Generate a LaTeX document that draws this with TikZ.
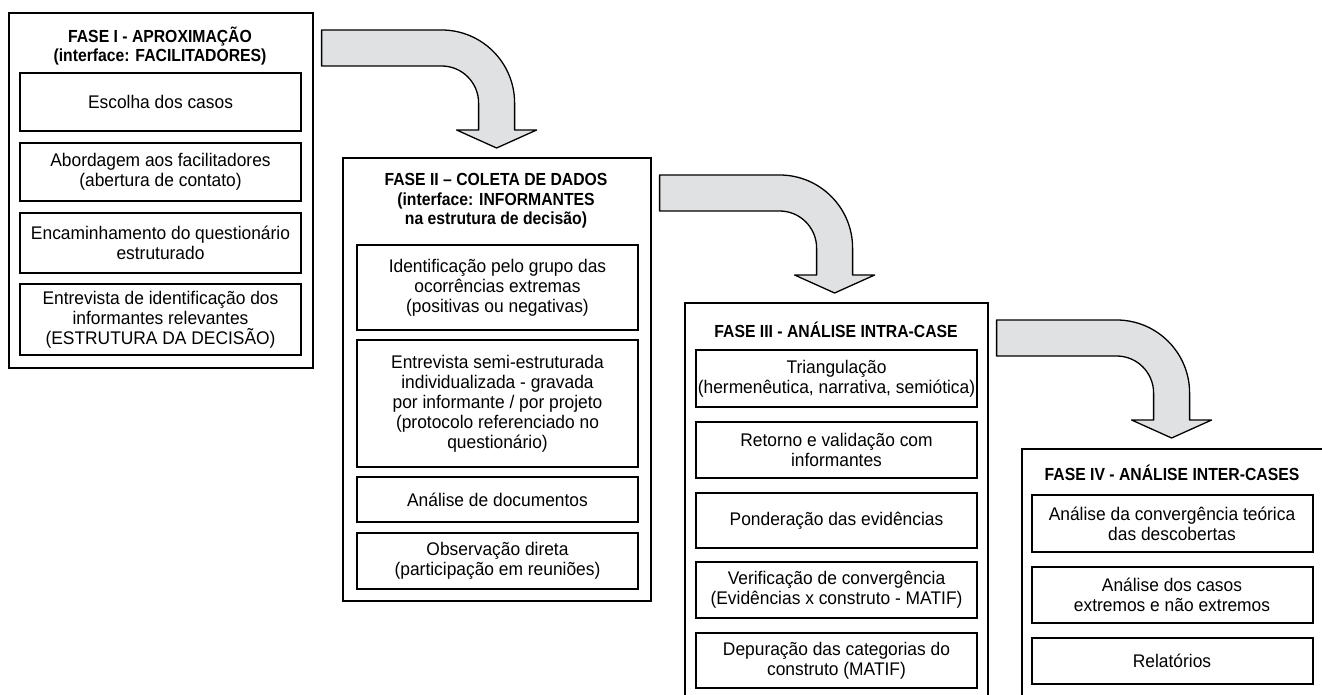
\documentclass[tikz,border=0pt]{standalone}
\usepackage{fontspec}
\setmainfont{Liberation Sans}[UprightFeatures={FakeStretch=0.95},BoldFeatures={FakeStretch=0.9}]
\usepackage{tikz}
\usetikzlibrary{calc}
\definecolor{cinza}{RGB}{224,225,227}

\tikzset{
  fase/.style={draw, line width=1.6pt, anchor=north west, inner sep=0pt},
  etapa/.style={draw, line width=2pt, minimum width=281pt, align=center, inner sep=0pt,
    font=\fontsize{18.3}{20}\selectfont},
  titulo/.style={align=center, inner sep=0pt, font=\fontsize{17.5}{19.5}\selectfont\bfseries},
  seta/.style={draw=black, fill=cinza, line width=1.3pt, line join=round},
  % seta curva (y para baixo)
  curva/.pic={
    \draw[seta] (0,0) -- (120,0) .. controls (160.3,0) and (193,-32.7) .. (193,-73) -- (193,-100)
      -- (215,-100) -- (175,-118) -- (135,-100) -- (157,-100) -- (157,-73)
      .. controls (157,-52.6) and (140.4,-36) .. (120,-36) -- (0,-36) -- cycle;
  }
}

\begin{document}
\begin{tikzpicture}[x=1pt,y=1pt,yscale=-1,xscale=1]
\useasboundingbox (0,0) rectangle (1322,695);
\clip (0,0) rectangle (1322,695);

%Fase I
\node[fase, minimum width=304pt, minimum height=355pt] (fase1) at (8,12) {};
\node[titulo] (t1) at (160,46) {FASE I - APROXIMAÇÃO\\(interface: FACILITADORES)};
\node[etapa, minimum height=58pt] (e11) at (160.5,102) {Escolha dos casos};
\node[etapa, minimum height=58pt] (e12) at (160.5,172) {Abordagem aos facilitadores\\(abertura de contato)};
\node[etapa, minimum height=60pt] (e13) at (160.5,243) {Encaminhamento do questionário\\estruturado};
\node[etapa, minimum height=71pt] (e14) at (160.5,319.5) {Entrevista de identificação dos\\informantes relevantes\\(ESTRUTURA DA DECISÃO)};

%Fase II
\node[fase, minimum width=308pt, minimum height=443pt] (fase2) at (342,157) {};
\node[titulo] (t2) at (496,201) {FASE II -- COLETA DE DADOS\\(interface: INFORMANTES\\na estrutura de decisão)};
\node[etapa, minimum height=85pt] (e21) at (497.5,287.5) {Identificação pelo grupo das\\ocorrências extremas\\(positivas ou negativas)};
\node[etapa, minimum height=127pt] (e22) at (497.5,403.5) {Entrevista semi-estruturada\\individualizada - gravada\\por informante / por projeto\\(protocolo referenciado no\\questionário)};
\node[etapa, minimum height=45pt] (e23) at (497.5,499.5) {Análise de documentos};
\node[etapa, minimum height=56pt] (e24) at (497.5,561) {Observação direta\\(participação em reuniões)};

%Fase III
\node[fase, minimum width=303pt, minimum height=430pt] (fase3) at (684,302) {};
\node[titulo] (t3) at (836,330) {FASE III - ANÁLISE INTRA-CASE};
\node[etapa, minimum height=57pt] (e31) at (836.5,378.5) {Triangulação\\(hermenêutica, narrativa, semiótica)};
\node[etapa, minimum height=56pt] (e32) at (836.5,450) {Retorno e validação com\\informantes};
\node[etapa, minimum height=55pt] (e33) at (836.5,520.5) {Ponderação das evidências};
\node[etapa, minimum height=56pt] (e34) at (836.5,590) {Verificação de convergência\\(Evidências x construto - MATIF)};
\node[etapa, minimum height=55pt] (e35) at (836.5,660.5) {Depuração das categorias do\\construto (MATIF)};

%Fase IV
\node[fase, minimum width=320pt, minimum height=290pt] (fase4) at (1021,448) {};
\node[titulo] (t4) at (1172,473) {FASE IV - ANÁLISE INTER-CASES};
\node[etapa, minimum height=57pt] (e41) at (1172,523.5) {Análise da convergência teórica\\das descobertas};
\node[etapa, minimum height=56pt] (e42) at (1172,595) {Análise dos casos\\extremos e não extremos};
\node[etapa, minimum height=46pt] (e43) at (1172,661) {Relatórios};

%Setas entre fases
\pic at ($(fase1.north east)+(8,18)$) {curva};
\pic at ($(fase2.north east)+(8,18)$) {curva};
\pic at ($(fase3.north east)+(8,18)$) {curva};

\end{tikzpicture}
\end{document}
